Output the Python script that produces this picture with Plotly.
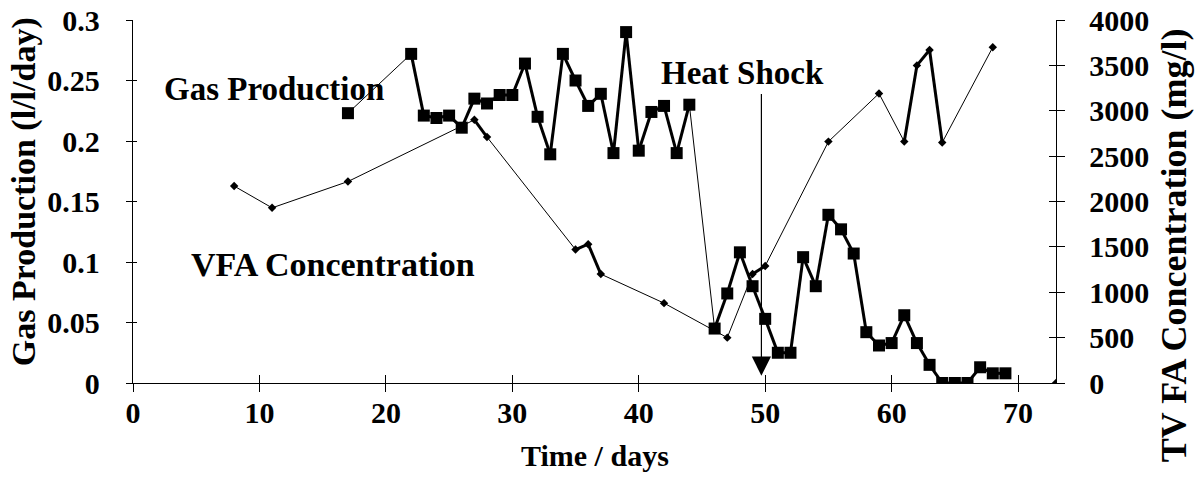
import plotly.graph_objects as go

# ---------------- data ----------------
gas_days = [17, 22, 23, 24, 25, 26, 27, 28, 29, 30, 31, 32, 33, 34, 35, 36, 37, 38, 39, 40,
            41, 42, 43, 44, 46, 47, 48, 49, 50, 51, 52, 53, 54, 55, 56, 57, 58, 59, 60, 61,
            62, 63, 64, 65, 66, 67, 68, 69]
gas_prod = [0.223, 0.272, 0.221, 0.219, 0.221, 0.211, 0.235, 0.231, 0.238, 0.238, 0.264, 0.220,
            0.189, 0.272, 0.250, 0.229, 0.239, 0.190, 0.290, 0.192, 0.224, 0.229, 0.190, 0.230,
            0.045, 0.074, 0.108, 0.080, 0.053, 0.025, 0.025, 0.104, 0.080, 0.139, 0.127, 0.107,
            0.042, 0.031, 0.033, 0.056, 0.033, 0.015, 0.0, 0.0, 0.0, 0.013, 0.008, 0.008]

vfa_days = [8, 11, 17, 27, 28, 35, 36, 37, 42, 47, 49, 50, 55, 59, 61, 62, 63, 64, 68]
vfa_conc = [2170, 1930, 2220, 2900, 2710, 1470, 1530, 1200, 880, 500, 1200, 1290, 2660, 3190,
            2660, 3500, 3670, 2650, 3700]
vfa_last_day = [73]
vfa_last_conc = [0]

heat_shock_day = 49.7

x_ticks = [0, 10, 20, 30, 40, 50, 60, 70]
y_ticks = [0, 0.05, 0.1, 0.15, 0.2, 0.25, 0.3]
y_labels = ["0", "0.05", "0.1", "0.15", "0.2", "0.25", "0.3"]
y2_ticks = [0, 500, 1000, 1500, 2000, 2500, 3000, 3500, 4000]

FONT = "Liberation Serif"
BLACK = "#000000"


def segments(days, vals, consecutive):
    xs, ys = [], []
    for i in range(len(days) - 1):
        if (days[i + 1] - days[i] == 1) == consecutive:
            xs += [days[i], days[i + 1], None]
            ys += [vals[i], vals[i + 1], None]
    return xs, ys


fig = go.Figure()

# VFA concentration (right axis)
for cons, w in ((False, 1.0), (True, 3.0)):
    sx, sy = segments(vfa_days, vfa_conc, cons)
    fig.add_trace(go.Scatter(x=sx, y=sy, mode="lines", yaxis="y2", line=dict(color=BLACK, width=w),
                             hoverinfo="skip", showlegend=False))
fig.add_trace(go.Scatter(x=vfa_days + vfa_last_day, y=vfa_conc + vfa_last_conc, mode="markers", yaxis="y2",
                         marker=dict(symbol="diamond", size=6.5, color=BLACK), showlegend=False))

# Gas production (left axis)
for cons, w in ((False, 1.0), (True, 3.0)):
    sx, sy = segments(gas_days, gas_prod, cons)
    fig.add_trace(go.Scatter(x=sx, y=sy, mode="lines", line=dict(color=BLACK, width=w),
                             hoverinfo="skip", showlegend=False))
fig.add_trace(go.Scatter(x=gas_days, y=gas_prod, mode="markers",
                         marker=dict(symbol="square", size=12, color=BLACK), showlegend=False))

# empty traces so the overlay (cross-tick) axes are drawn
fig.add_trace(go.Scatter(x=[], y=[], xaxis="x2", yaxis="y3", showlegend=False))
fig.add_trace(go.Scatter(x=[], y=[], xaxis="x2", yaxis="y4", showlegend=False))

tickfont = dict(family=FONT, size=30, color=BLACK, weight="bold")
xr = [0, 73]

fig.update_layout(
    template="none",
    width=1196, height=492,
    margin=dict(l=133, r=140, t=20, b=109, pad=0, autoexpand=False),
    paper_bgcolor="white", plot_bgcolor="white",
    showlegend=False,
    xaxis=dict(range=xr, tickvals=x_ticks, ticks="inside", ticklen=8, tickwidth=1, tickcolor=BLACK,
               showline=True, linecolor=BLACK, linewidth=1.3, showgrid=False, zeroline=False,
               tickfont=tickfont, ticklabelstandoff=3, automargin=False),
    xaxis2=dict(range=xr, tickvals=x_ticks, ticks="outside", ticklen=8, tickwidth=1, tickcolor=BLACK,
                overlaying="x", anchor="y", showticklabels=False, showline=False, showgrid=False,
                zeroline=False, automargin=False),
    yaxis=dict(range=[0, 0.3], tickvals=y_ticks, ticktext=y_labels, ticks="outside", ticklen=6,
               tickwidth=1, tickcolor=BLACK, showline=True, linecolor=BLACK, linewidth=1.3,
               showgrid=False, zeroline=False, tickfont=tickfont, ticklabelstandoff=20,
               automargin=False),
    yaxis2=dict(range=[0, 4000], tickvals=y2_ticks, overlaying="y", side="right", anchor="x",
                ticks="outside", ticklen=8, tickwidth=1, tickcolor=BLACK, showline=True,
                linecolor=BLACK, linewidth=1.3, showgrid=False, zeroline=False, tickfont=tickfont,
                ticklabelstandoff=18, automargin=False),
    yaxis3=dict(range=[0, 0.3], tickvals=y_ticks, overlaying="y", side="left", anchor="x2",
                ticks="inside", ticklen=4, tickwidth=1, tickcolor=BLACK, showticklabels=False,
                showline=False, showgrid=False, zeroline=False, automargin=False),
    yaxis4=dict(range=[0, 4000], tickvals=y2_ticks, overlaying="y", side="right", anchor="x2",
                ticks="inside", ticklen=7, tickwidth=1, tickcolor=BLACK, showticklabels=False,
                showline=False, showgrid=False, zeroline=False, automargin=False),
)

lab = dict(family=FONT, size=33, color=BLACK, weight="bold")
fig.add_annotation(text="Gas Production", x=2.3, y=0.2426, xref="x", yref="y", xanchor="left",
                   yanchor="middle", showarrow=False, font=lab)
fig.add_annotation(text="VFA Concentration", x=4.4, y=0.0983, xref="x", yref="y", xanchor="left",
                   yanchor="middle", showarrow=False, font=dict(lab, size=34))
fig.add_annotation(text="Heat Shock", x=41.6, y=0.2566, xref="x", yref="y", xanchor="left",
                   yanchor="middle", showarrow=False, font=lab)
fig.add_annotation(text="", x=heat_shock_day, y=0.006, xref="x", yref="y",
                   ax=heat_shock_day, ay=0.24, axref="x", ayref="y", showarrow=True,
                   arrowhead=2, arrowsize=3.2, arrowwidth=1.2, arrowcolor=BLACK, standoff=0)

# axis titles
fig.add_annotation(text="Time / days", x=0.5, y=-0.2, xref="paper", yref="paper",
                   xanchor="center", yanchor="middle", showarrow=False,
                   font=dict(family=FONT, size=30, color=BLACK, weight="bold"))
fig.add_annotation(text="Gas Production (l/l/day)", x=-0.118, y=0.526, xref="paper", yref="paper",
                   xanchor="center", yanchor="middle", textangle=-90, showarrow=False,
                   font=dict(family=FONT, size=34, color=BLACK, weight="bold"))
fig.add_annotation(text="TV FA Concentration (mg/l)", x=1.128, y=0.38, xref="paper", yref="paper",
                   xanchor="center", yanchor="middle", textangle=-90, showarrow=False,
                   font=dict(family=FONT, size=36, color=BLACK, weight="bold"))

fig.write_html("out.html")
